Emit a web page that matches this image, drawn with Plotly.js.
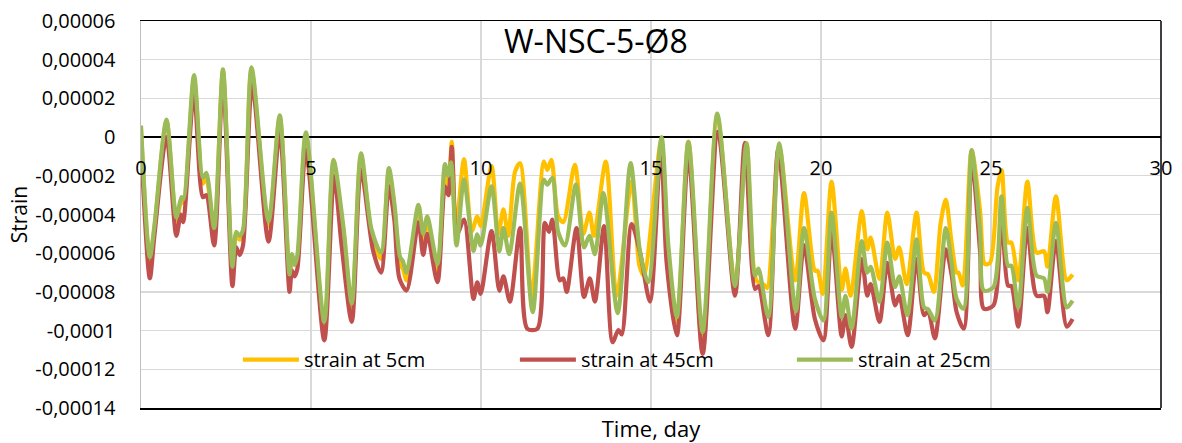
<!DOCTYPE html>
<html>
<head>
<meta charset="utf-8">
<script src="https://cdn.plot.ly/plotly-3.0.1.min.js"></script>
<style>html,body{margin:0;padding:0;background:#fff;}#chart{width:1182px;height:443px;}</style>
</head>
<body>
<div id="chart"></div>
<script>
// Time, day
const timeGreen = [0.00,0.26,0.40,0.75,1.04,1.19,1.25,1.56,1.82,1.92,2.15,2.41,2.69,2.80,2.90,3.00,3.25,3.75,4.08,4.37,4.44,4.52,4.60,4.85,5.39,5.66,5.95,6.20,6.47,6.78,7.06,7.29,7.45,7.62,7.70,7.81,8.16,8.30,8.42,8.72,8.94,9.03,9.12,9.28,9.50,9.78,9.89,9.99,10.31,10.54,10.66,10.83,11.15,11.52,11.85,11.95,12.10,12.27,12.47,12.79,13.03,13.19,13.35,13.60,14.02,14.40,14.68,14.92,15.31,15.51,15.76,16.10,16.52,16.95,17.47,17.81,18.06,18.16,18.45,18.77,19.26,19.50,19.82,20.07,20.31,20.61,20.72,20.90,21.20,21.36,21.46,21.72,21.95,22.18,22.30,22.54,22.81,23.03,23.15,23.35,23.67,23.84,23.99,24.19,24.43,24.68,24.79,25.07,25.31,25.50,25.60,25.80,26.07,26.34,26.56,26.66,26.91,27.23,27.40];
const strainGreen = [0.6e-5,-6.2e-5,-4.5e-5,0.9e-5,-4.15e-5,-3.1e-5,-3.2e-5,3.2e-5,-2.1e-5,-1.85e-5,-4.7e-5,3.5e-5,-6.7e-5,-4.9e-5,-5.1e-5,-4.8e-5,3.6e-5,-4.35e-5,1.13e-5,-7.1e-5,-6.05e-5,-6.6e-5,-6.1e-5,0.25e-5,-9.55e-5,-1.18e-5,-4.6e-5,-8.6e-5,-0.84e-5,-4.77e-5,-5.97e-5,-1.6e-5,-3.4e-5,-6.2e-5,-6.4e-5,-7.0e-5,-3.5e-5,-5.0e-5,-4.1e-5,-6.56e-5,-1.4e-5,-2.0e-5,-1.3e-5,-5.6e-5,-2.2e-5,-5.88e-5,-5.03e-5,-5.6e-5,-2.55e-5,-5.9e-5,-4.7e-5,-6.05e-5,-2.4e-5,-9.05e-5,-2.2e-5,-2.46e-5,-2.1e-5,-4.9e-5,-5.6e-5,-2.46e-5,-5.7e-5,-5.1e-5,-6.05e-5,-2.9e-5,-9.1e-5,-1.35e-5,-5.97e-5,-7.5e-5,0.0e-5,-5.6e-5,-9.3e-5,-0.24e-5,-10.07e-5,1.21e-5,-7.7e-5,-0.32e-5,-7.16e-5,-6.8e-5,-9.3e-5,-0.32e-5,-9.0e-5,-4.7e-5,-8.36e-5,-9.47e-5,-3.9e-5,-9.3e-5,-8.2e-5,-9.9e-5,-5.37e-5,-7.0e-5,-6.7e-5,-8.5e-5,-5.45e-5,-7.75e-5,-7.2e-5,-9.2e-5,-5.28e-5,-8.8e-5,-8.9e-5,-9.47e-5,-4.7e-5,-6.5e-5,-8.36e-5,-8.87e-5,-0.67e-5,-4.94e-5,-7.93e-5,-7.76e-5,-3.06e-5,-6.65e-5,-6.65e-5,-8.8e-5,-3.66e-5,-7.16e-5,-7.3e-5,-8.0e-5,-4.43e-5,-8.8e-5,-8.45e-5];

const timeRed = [0.00,0.26,0.40,0.75,1.04,1.17,1.24,1.56,1.82,1.92,2.15,2.41,2.69,2.80,2.90,3.00,3.27,3.75,4.08,4.37,4.44,4.52,4.60,4.85,5.39,5.68,5.90,6.20,6.47,6.83,7.06,7.29,7.45,7.60,7.81,8.16,8.30,8.42,8.72,8.94,9.04,9.14,9.30,9.50,9.78,9.89,9.99,10.31,10.54,10.66,10.85,11.15,11.36,11.66,11.88,12.00,12.10,12.32,12.42,12.52,12.81,13.03,13.20,13.35,13.62,13.87,14.04,14.14,14.43,14.68,14.97,15.29,15.46,15.76,16.10,16.52,16.97,17.47,17.76,18.06,18.16,18.45,18.74,19.24,19.50,19.82,20.07,20.31,20.61,20.72,20.90,21.20,21.36,21.46,21.72,21.95,22.18,22.30,22.55,22.81,23.03,23.15,23.35,23.67,23.84,23.99,24.20,24.43,24.68,24.79,25.07,25.31,25.50,25.60,25.80,26.07,26.34,26.56,26.66,26.91,27.23,27.40];
const strainRed = [-0.3e-5,-7.3e-5,-5.0e-5,0.0e-5,-5.1e-5,-4.0e-5,-4.4e-5,2.3e-5,-3.1e-5,-3.0e-5,-5.6e-5,3.0e-5,-7.7e-5,-5.7e-5,-6.1e-5,-5.6e-5,2.7e-5,-5.4e-5,0.27e-5,-8.0e-5,-6.9e-5,-7.2e-5,-6.8e-5,-0.67e-5,-10.5e-5,-2.03e-5,-5.6e-5,-9.55e-5,-1.7e-5,-5.9e-5,-7.0e-5,-2.55e-5,-4.26e-5,-7.3e-5,-7.93e-5,-4.4e-5,-6.1e-5,-5.0e-5,-7.5e-5,-2.55e-5,-3.0e-5,-0.5e-5,-5.0e-5,-4.26e-5,-8.36e-5,-7.5e-5,-8.1e-5,-4.86e-5,-7.93e-5,-7.2e-5,-8.5e-5,-4.7e-5,-9.9e-5,-9.9e-5,-4.43e-5,-4.9e-5,-4.26e-5,-7.4e-5,-7.3e-5,-8.0e-5,-4.7e-5,-8.26e-5,-7.3e-5,-8.5e-5,-4.6e-5,-10.6e-5,-9.97e-5,-10.2e-5,-4.5e-5,-5.97e-5,-8.5e-5,-0.5e-5,-6.5e-5,-10.24e-5,-0.92e-5,-11.2e-5,0.27e-5,-8.2e-5,-0.3e-5,-7.85e-5,-7.7e-5,-10.24e-5,-0.67e-5,-9.9e-5,-5.6e-5,-9.4e-5,-10.5e-5,-4.86e-5,-10.3e-5,-9.2e-5,-10.84e-5,-6.3e-5,-8.2e-5,-7.6e-5,-9.55e-5,-6.5e-5,-8.7e-5,-8.2e-5,-10.24e-5,-6.3e-5,-9.2e-5,-9.0e-5,-10.4e-5,-5.8e-5,-7.1e-5,-9.05e-5,-9.9e-5,-1.18e-5,-5.97e-5,-8.87e-5,-8.7e-5,-4.0e-5,-7.67e-5,-7.7e-5,-9.8e-5,-4.7e-5,-8.2e-5,-8.2e-5,-9.05e-5,-5.37e-5,-9.8e-5,-9.4e-5];

const timeYellow = [0.00,0.26,0.40,0.75,1.04,1.19,1.25,1.56,1.82,1.92,2.15,2.41,2.69,2.80,2.90,3.00,3.25,3.75,4.08,4.37,4.44,4.52,4.60,4.85,5.39,5.66,5.95,6.20,6.47,6.78,7.06,7.29,7.45,7.62,7.70,7.81,8.16,8.30,8.42,8.72,8.94,9.04,9.14,9.26,9.50,9.73,9.89,9.99,10.31,10.51,10.66,10.80,11.00,11.15,11.49,11.85,11.95,12.07,12.27,12.42,12.76,13.01,13.19,13.32,13.67,13.99,14.43,14.66,14.79,15.30,15.50,15.76,16.10,16.52,16.95,17.47,17.81,18.10,18.35,18.42,18.77,19.24,19.50,19.82,19.90,20.05,20.31,20.61,20.72,20.87,21.20,21.36,21.46,21.72,21.95,22.18,22.30,22.52,22.81,23.03,23.15,23.32,23.52,23.67,23.84,23.99,24.04,24.17,24.43,24.68,24.82,24.97,25.19,25.31,25.50,25.60,25.80,26.07,26.34,26.56,26.66,26.91,27.23,27.40];
const strainYellow = [0.4e-5,-6.4e-5,-4.6e-5,0.8e-5,-4.3e-5,-3.3e-5,-3.4e-5,3.0e-5,-2.4e-5,-2.1e-5,-4.9e-5,3.4e-5,-6.8e-5,-5.1e-5,-5.3e-5,-5.0e-5,3.4e-5,-4.6e-5,1.0e-5,-7.2e-5,-6.3e-5,-6.6e-5,-6.3e-5,0.1e-5,-9.9e-5,-1.5e-5,-4.8e-5,-8.8e-5,-1.0e-5,-5.0e-5,-6.3e-5,-1.8e-5,-3.6e-5,-6.6e-5,-6.8e-5,-7.4e-5,-3.7e-5,-5.4e-5,-4.4e-5,-6.9e-5,-1.8e-5,-3.0e-5,-0.24e-5,-4.9e-5,-1.15e-5,-4.86e-5,-4.1e-5,-4.6e-5,-1.5e-5,-5.0e-5,-3.74e-5,-5.1e-5,-1.8e-5,-1.35e-5,-8.2e-5,-1.27e-5,-1.7e-5,-1.18e-5,-4.1e-5,-4.4e-5,-1.44e-5,-5.0e-5,-3.9e-5,-5.1e-5,-1.27e-5,-8.2e-5,-2.3e-5,-6.65e-5,-7.16e-5,-0.2e-5,-5.97e-5,-9.55e-5,-0.24e-5,-11.1e-5,1.1e-5,-7.6e-5,-0.32e-5,-7.4e-5,-7.67e-5,-7.8e-5,-0.5e-5,-7.4e-5,-2.9e-5,-6.9e-5,-6.9e-5,-8.1e-5,-2.3e-5,-7.9e-5,-6.8e-5,-8.2e-5,-3.83e-5,-5.8e-5,-5.2e-5,-7.33e-5,-3.9e-5,-6.3e-5,-5.7e-5,-7.6e-5,-3.9e-5,-7.0e-5,-7.1e-5,-8.0e-5,-4.43e-5,-3.23e-5,-5.45e-5,-7.0e-5,-7.0e-5,-7.67e-5,-0.67e-5,-3.83e-5,-6.56e-5,-6.5e-5,-2.6e-5,-1.7e-5,-5.45e-5,-5.45e-5,-7.4e-5,-2.3e-5,-5.97e-5,-5.9e-5,-6.7e-5,-3.06e-5,-7.4e-5,-7.1e-5];

const seriesNames = ['strain at 5cm', 'strain at 45cm', 'strain at 25cm'];
const yTickVals = [6e-5,4e-5,2e-5,0,-2e-5,-4e-5,-6e-5,-8e-5,-10e-5,-12e-5,-14e-5];
const yTickText = ['0,00006','0,00004','0,00002','0','-0,00002','-0,00004','-0,00006','-0,00008','-0,0001','-0,00012','-0,00014'];
const xTickVals = [0,5,10,15,20,25,30];
const xTickText = ['0','5','10','15','20','25','30'];

const FONT = '"Open Sans", Lato, sans-serif';
const colors = ['#FFC000', '#C0504D', '#9BBB59'];
const lineW = 4.2;

const traces = [
  {x: timeYellow, y: strainYellow, name: seriesNames[0]},
  {x: timeRed, y: strainRed, name: seriesNames[1]},
  {x: timeGreen, y: strainGreen, name: seriesNames[2]}
].map((t, i) => Object.assign(t, {
  type: 'scatter', mode: 'lines',
  line: {color: colors[i], width: lineW, shape: 'spline', smoothing: 0.8},
  xaxis: 'x', yaxis: 'y'
}));

const layout = {
  width: 1182, height: 443,
  margin: {l: 141, r: 21, t: 21, b: 35},
  paper_bgcolor: '#fff', plot_bgcolor: '#fff',
  font: {family: FONT, size: 20, color: '#000'},
  showlegend: true,
  title: {text: 'W-NSC-5-Ø8', font: {family: FONT, size: 32, color: '#000'},
          xref: 'paper', x: 0.446, xanchor: 'center', yref: 'container', y: 0.905, yanchor: 'middle'},
  xaxis: {
    range: [0, 30], tickvals: xTickVals, showticklabels: false,
    showgrid: true, gridcolor: '#d9d9d9', gridwidth: 1.3,
    showline: true, linecolor: '#000', linewidth: 1.5, mirror: true,
    zeroline: false, ticks: '',
    title: {text: 'Time, day', font: {family: FONT, size: 22}, standoff: 14}
  },
  xaxis2: {
    overlaying: 'x', matches: 'x', range: [0, 30], anchor: 'free', position: 0.7,
    tickvals: xTickVals, ticktext: xTickText, showticklabels: true,
    ticks: 'outside', ticklen: 13, tickcolor: 'rgba(0,0,0,0)',
    tickfont: {family: FONT, size: 20},
    showgrid: false, showline: false, zeroline: false
  },
  yaxis: {
    range: [-14e-5, 6e-5], tickvals: yTickVals, ticktext: yTickText,
    showgrid: true, gridcolor: '#d9d9d9', gridwidth: 1.3,
    showline: true, linecolor: '#bfbfbf', linewidth: 1.5,
    zeroline: true, zerolinecolor: '#000', zerolinewidth: 1.8,
    ticks: 'outside', ticklen: 20, tickcolor: 'rgba(0,0,0,0)',
    tickfont: {family: FONT, size: 20},
    title: {text: 'Strain', font: {family: FONT, size: 21}, standoff: 2}
  },
  legend: {
    orientation: 'h', x: 0.095, xanchor: 'left', y: 0.125, yanchor: 'middle',
    bgcolor: 'rgba(0,0,0,0)', font: {family: FONT, size: 20},
    entrywidth: 206, entrywidthmode: 'pixels', itemwidth: 56
  },
  shapes: [
    {type: 'line', xref: 'paper', yref: 'paper', x0: 1, x1: 1, y0: 0, y1: 1, line: {color: '#000', width: 1.5}}
  ]
};

// invisible trace on xaxis2 so the tick-label axis at y = 0 is drawn
traces.push({x: [0], y: [0], xaxis: 'x2', yaxis: 'y', mode: 'lines', showlegend: false, hoverinfo: 'skip', line: {width: 0}});

Plotly.newPlot('chart', traces, layout, {staticPlot: true, displayModeBar: false});
</script>
</body>
</html>
